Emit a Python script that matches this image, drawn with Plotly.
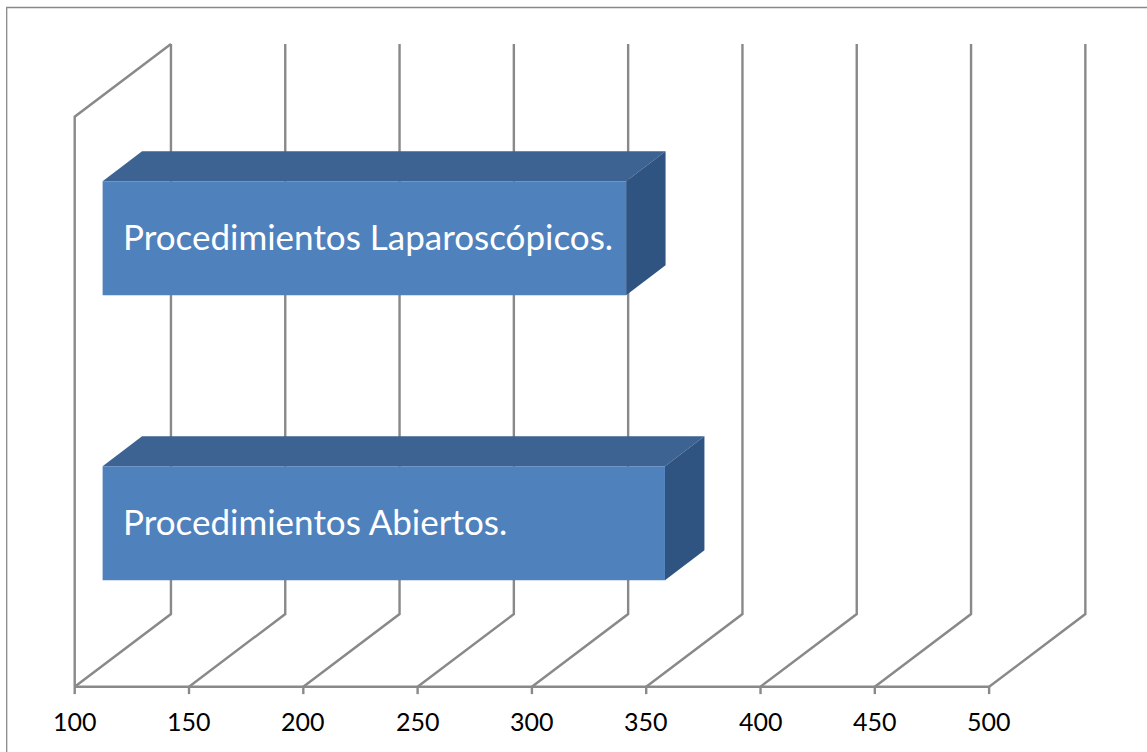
import plotly.graph_objects as go

# Chart data
categories = ["Procedimientos Abiertos.", "Procedimientos Laparoscópicos."]
values = [346, 329]
tick_values = [100, 150, 200, 250, 300, 350, 400, 450, 500]
tick_labels = ["100", "150", "200", "250", "300", "350", "400", "450", "500"]

# Oblique 3-D projection: depth d in [0, 1] shifts x (value units) and y (category units)
AXIS_MIN = 100
DEPTH_X = 42.1
DEPTH_Y = 0.255
BAR_HALF = 0.2
D_FRONT, D_BACK = 0.29, 0.70

FRONT = "#4F81BD"
TOP = "#3C6391"
SIDE = "#305482"
GRID = "#898989"


def proj(v, c, d):
    return v + d * DEPTH_X, c + d * DEPTH_Y


def path(points):
    xs, ys = zip(*[proj(*p) for p in points])
    return list(xs), list(ys)


fig = go.Figure()


def add_line(points, width=2.4, color=GRID):
    xs, ys = path(points)
    fig.add_trace(go.Scatter(x=xs, y=ys, mode="lines",
                             line=dict(color=color, width=width),
                             hoverinfo="skip", showlegend=False))


def add_face(points, color):
    xs, ys = path(points + [points[0]])
    fig.add_trace(go.Scatter(x=xs, y=ys, mode="lines", fill="toself",
                             fillcolor=color, line=dict(width=0, color=color),
                             hoverinfo="skip", showlegend=False))


n_cat = len(categories)
vmax = tick_values[-1]

# Side wall at the axis minimum
add_line([(AXIS_MIN, 0, 0), (AXIS_MIN, n_cat, 0), (AXIS_MIN, n_cat, 1)])
# Front floor edge
add_line([(AXIS_MIN, 0, 0), (vmax, 0, 0)])
# Floor diagonals, back wall gridlines and tick marks
for t in tick_values:
    add_line([(t, 0, 0), (t, 0, 1), (t, n_cat, 1)])
    add_line([(t, 0, 0), (t, -0.026, 0)])

# Bars
for i, (cat, val) in enumerate(zip(categories, values)):
    c = i + 0.5
    lo, hi = c - BAR_HALF, c + BAR_HALF
    add_face([(AXIS_MIN, hi, D_FRONT), (val, hi, D_FRONT),
              (val, hi, D_BACK), (AXIS_MIN, hi, D_BACK)], TOP)
    add_face([(val, lo, D_FRONT), (val, lo, D_BACK),
              (val, hi, D_BACK), (val, hi, D_FRONT)], SIDE)
    add_face([(AXIS_MIN, lo, D_FRONT), (val, lo, D_FRONT),
              (val, hi, D_FRONT), (AXIS_MIN, hi, D_FRONT)], FRONT)
    tx, ty = proj(AXIS_MIN + 8.0, c + 0.008, D_FRONT)
    fig.add_annotation(x=tx, y=ty, text=cat, showarrow=False,
                       xanchor="left", yanchor="middle",
                       font=dict(family="Lato", size=35, color="white"))

# Value axis labels along the front floor edge
for t, lab in zip(tick_values, tick_labels):
    fig.add_annotation(x=t, y=-0.12, text=lab, showarrow=False,
                       xanchor="center", yanchor="middle",
                       font=dict(family="Lato", size=25, color="black"))

# Chart area border
fig.add_shape(type="rect", xref="paper", yref="paper",
              x0=6.7 / 1147, x1=1.02, y0=-0.02, y1=1 - 7.5 / 752,
              line=dict(color=GRID, width=1.3), fillcolor="rgba(0,0,0,0)")

fig.update_layout(
    width=1147, height=752,
    margin=dict(l=0, r=0, t=0, b=0),
    paper_bgcolor="white", plot_bgcolor="white",
    showlegend=False,
    xaxis=dict(range=[67.32, 569.07], visible=False, fixedrange=True),
    yaxis=dict(range=[-0.2291, 2.4095], visible=False, fixedrange=True),
)

fig.write_html("out.html")
